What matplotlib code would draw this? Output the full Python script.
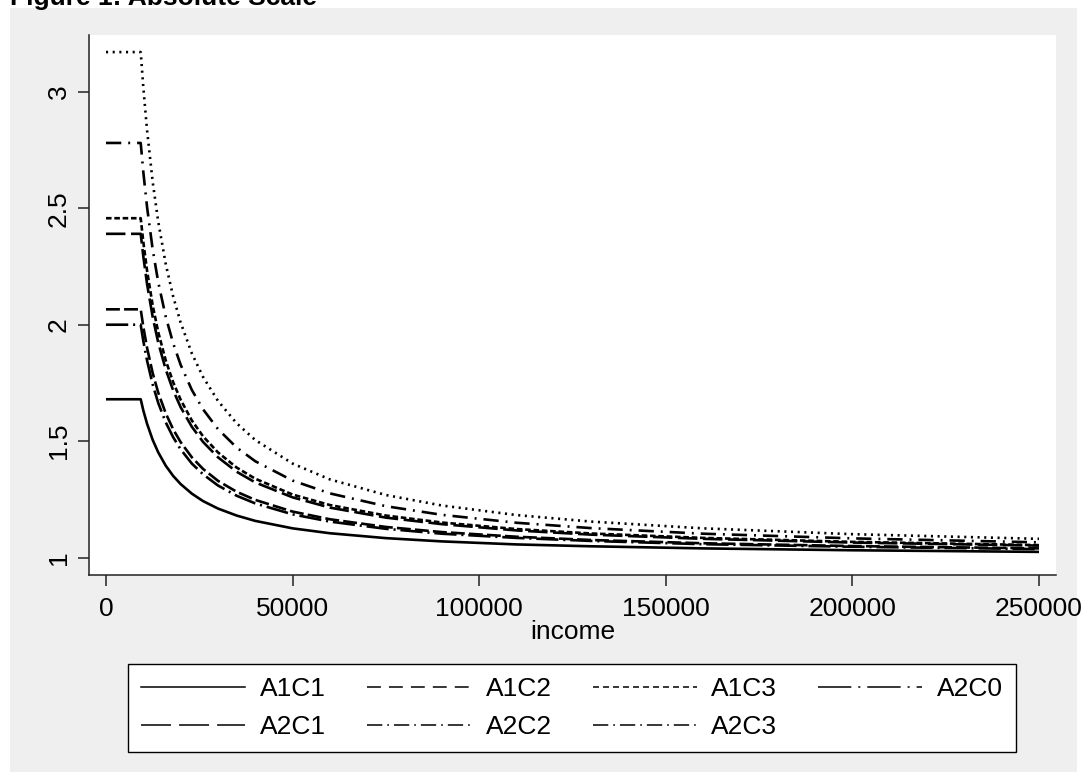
import matplotlib
matplotlib.use("Agg")
import matplotlib.pyplot as plt
from matplotlib.lines import Line2D
from matplotlib.patches import Rectangle

plt.rcParams['font.family'] = ['Liberation Sans', 'DejaVu Sans']
plt.rcParams['lines.scale_dashes'] = False

# ---- data ----
income = [0, 9300, 10000, 11000, 12500, 14000, 16000, 18000, 20000, 23000, 26000,
          30000, 35000, 40000, 50000, 60000, 75000, 90000, 110000, 130000,
          160000, 200000, 250000]

a1c1 = [1.680, 1.680, 1.632, 1.575, 1.506, 1.452, 1.395, 1.351, 1.316, 1.275, 1.243,
        1.211, 1.181, 1.158, 1.126, 1.105, 1.084, 1.070, 1.057, 1.049, 1.040, 1.032, 1.025]
a1c2 = [2.066, 2.066, 1.991, 1.901, 1.793, 1.708, 1.620, 1.551, 1.496, 1.431, 1.381,
        1.330, 1.283, 1.248, 1.198, 1.165, 1.132, 1.110, 1.090, 1.076, 1.062, 1.050, 1.040]
a1c3 = [2.457, 2.457, 2.355, 2.232, 2.084, 1.968, 1.847, 1.753, 1.678, 1.589, 1.521,
        1.452, 1.387, 1.339, 1.271, 1.226, 1.181, 1.151, 1.123, 1.104, 1.085, 1.068, 1.054]
a2c0 = [2.000, 2.000, 1.930, 1.846, 1.744, 1.664, 1.581, 1.517, 1.465, 1.404, 1.358,
        1.310, 1.266, 1.233, 1.186, 1.155, 1.124, 1.103, 1.085, 1.072, 1.058, 1.047, 1.037]
a2c1 = [2.390, 2.390, 2.293, 2.175, 2.034, 1.923, 1.808, 1.718, 1.646, 1.562, 1.497,
        1.431, 1.369, 1.323, 1.259, 1.215, 1.172, 1.144, 1.117, 1.099, 1.081, 1.065, 1.052]
a2c2 = [2.780, 2.780, 2.655, 2.505, 2.324, 2.182, 2.035, 1.920, 1.828, 1.720, 1.637,
        1.552, 1.473, 1.414, 1.331, 1.276, 1.221, 1.184, 1.150, 1.127, 1.103, 1.083, 1.066]
a2c3 = [3.170, 3.170, 3.018, 2.835, 2.614, 2.442, 2.261, 2.121, 2.009, 1.877, 1.776,
        1.673, 1.577, 1.505, 1.404, 1.336, 1.269, 1.224, 1.183, 1.155, 1.126, 1.101, 1.081]

labels = ['A1C1', 'A1C2', 'A1C3', 'A2C0', 'A2C1', 'A2C2', 'A2C3']
series = [a1c1, a1c2, a1c3, a2c0, a2c1, a2c2, a2c3]

x_ticks = [0, 50000, 100000, 150000, 200000, 250000]
y_ticks = [1, 1.5, 2, 2.5, 3]
y_ticklabels = ['1', '1.5', '2', '2.5', '3']

# line styles as they appear in the plot, and in the legend
plot_styles = ['-', (0, (10, 3)), (0, (4, 2)), (0, (16, 3.5, 1.5, 3.5)),
               (0, (14, 4)), (0, (11, 5, 1.4, 5)), (0, (1.5, 3.3))]
legend_styles = ['-', (0, (10, 5.8)), (0, (4.3, 2.9)), (0, (24, 5, 1.5, 5)),
                 (0, (21.6, 5.8)), (0, (11, 3.6, 1.2, 3.6)), (0, (11, 3.6, 1.2, 3.6))]

W, H = 1087, 782
fig = plt.figure(figsize=(W / 100, H / 100), dpi=100)
fig.patch.set_facecolor('white')
fig.patches.append(Rectangle((10 / W, 1 - 772 / H), 1067 / W, 764 / H,
                             transform=fig.transFigure, facecolor='#efefef',
                             edgecolor='none', zorder=-10))

fig.text(10 / W, 1 - 5 / H, 'Figure 1: Absolute Scale', fontsize=19,
         fontweight='bold', ha='left', va='baseline')

ax = fig.add_axes([89 / W, 1 - 575 / H, 967 / W, 540 / H])
ax.set_facecolor('white')

for y, ls in zip(series, plot_styles):
    ax.plot(income, y, color='black', lw=1.9, linestyle=ls,
            dash_capstyle='butt', solid_capstyle='butt')

ax.set_xlim(-4555, 254555)
ax.set_ylim(0.9258, 3.2433)
ax.set_xticks(x_ticks)
ax.set_xticklabels([str(t) for t in x_ticks])
ax.set_yticks(y_ticks)
ax.set_yticklabels(y_ticklabels, rotation=90, va='center')

for s in ['top', 'right']:
    ax.spines[s].set_visible(False)
for s in ['left', 'bottom']:
    ax.spines[s].set_color('#222222')
    ax.spines[s].set_linewidth(1.1)
ax.tick_params(axis='both', direction='out', length=8, width=1.1,
               color='#222222', labelsize=19)
ax.tick_params(axis='x', pad=8)
ax.tick_params(axis='y', pad=5)
ax.set_xlabel('income', fontsize=19, labelpad=-1)

handles = [Line2D([], [], color='black', lw=1.1, linestyle=ls, dash_capstyle='butt')
           for ls in legend_styles]
order = [0, 4, 1, 5, 2, 6, 3]
leg = fig.legend([handles[i] for i in order], [labels[i] for i in order],
                 ncol=4, loc='center', bbox_to_anchor=(572 / W, 1 - 708 / H),
                 fontsize=19, frameon=True, fancybox=False, framealpha=1,
                 edgecolor='black', handlelength=3.95, handletextpad=0.55,
                 columnspacing=1.55, labelspacing=0.53, borderpad=0.5)
leg.get_frame().set_linewidth(1.0)

fig.savefig('out.png', dpi=100)
